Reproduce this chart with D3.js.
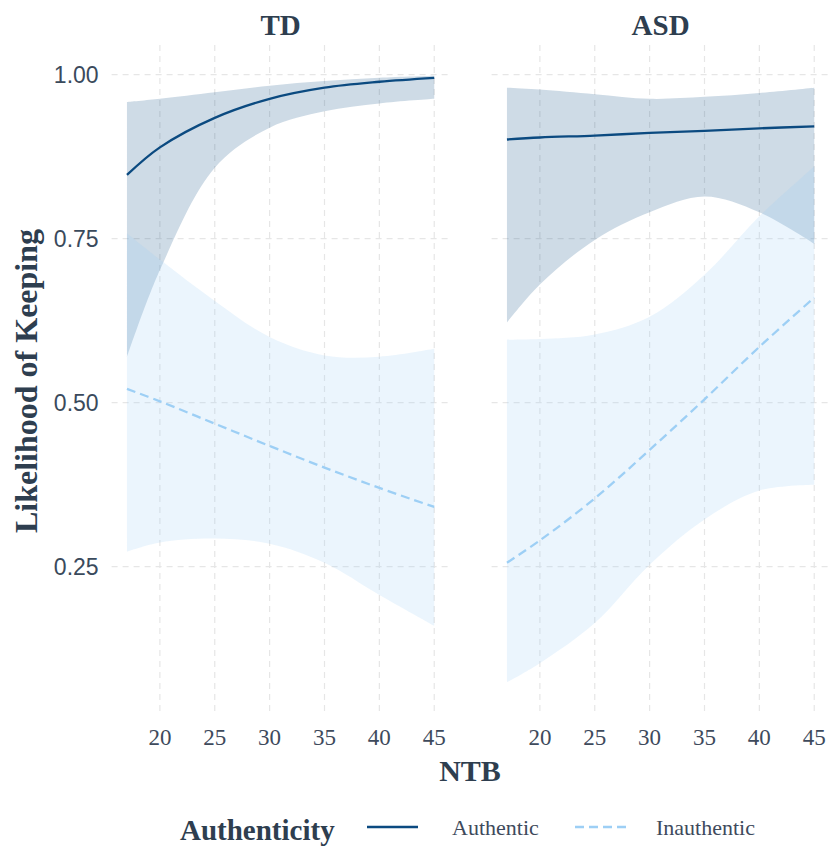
<!DOCTYPE html>
<html>
<head>
<meta charset="utf-8">
<script src="https://cdn.jsdelivr.net/npm/d3@7"></script>
<style>
  body { margin: 0; background: #fff; }
  svg { display: block; }
</style>
</head>
<body>
<svg width="829" height="847"></svg>
<script>
// values
var ntb = [17, 20, 25, 30, 35, 40, 45];
var xTicks = [20, 25, 30, 35, 40, 45];
var yTicks = [0.25, 0.50, 0.75, 1.00];
var groups = ["TD", "ASD"];
var authenticity = ["Authentic", "Inauthentic"];

var tdAuthFit   = [0.847, 0.889, 0.934, 0.963, 0.980, 0.989, 0.995];
var tdAuthLow   = [0.569, 0.702, 0.858, 0.919, 0.944, 0.956, 0.963];
var tdAuthHigh  = [0.958, 0.963, 0.973, 0.983, 0.990, 0.995, 0.998];
var tdInFit     = [0.521, 0.502, 0.468, 0.434, 0.401, 0.370, 0.341];
var tdInLow     = [0.273, 0.287, 0.293, 0.285, 0.256, 0.207, 0.160];
var tdInHigh    = [0.758, 0.718, 0.655, 0.600, 0.572, 0.570, 0.582];

var asdAuthFit  = [0.901, 0.904, 0.907, 0.911, 0.914, 0.918, 0.921];
var asdAuthLow  = [0.622, 0.680, 0.748, 0.790, 0.814, 0.790, 0.742];
var asdAuthHigh = [0.980, 0.977, 0.970, 0.963, 0.966, 0.972, 0.980];
var asdInFit    = [0.256, 0.290, 0.354, 0.428, 0.505, 0.585, 0.660];
var asdInLow    = [0.074, 0.103, 0.164, 0.253, 0.322, 0.366, 0.375];
var asdInHigh   = [0.596, 0.597, 0.604, 0.631, 0.695, 0.784, 0.860];

var colors = {"Authentic": "#0b4a80", "Inauthentic": "#9dcff5"};

function rows(fit, low, high) {
  return ntb.map(function(x, i) { return {x: x, fit: fit[i], low: low[i], high: high[i]}; });
}

var panels = [
  {name: "TD", left: 111.6, series: [
    {key: "Authentic", data: rows(tdAuthFit, tdAuthLow, tdAuthHigh)},
    {key: "Inauthentic", data: rows(tdInFit, tdInLow, tdInHigh)}]},
  {name: "ASD", left: 491.6, series: [
    {key: "Authentic", data: rows(asdAuthFit, asdAuthLow, asdAuthHigh)},
    {key: "Inauthentic", data: rows(asdInFit, asdInLow, asdInHigh)}]}
];

var svg = d3.select("svg");
var panelW = 338, panelTop = 45, panelBottom = 713;

var x = d3.scaleLinear().domain([15.6, 46.4]).range([0, panelW]);
var y = d3.scaleLinear().domain([0.027, 1.045]).range([panelBottom, panelTop]);

var area = d3.area()
  .x(function(d) { return x(d.x); })
  .y0(function(d) { return y(d.low); })
  .y1(function(d) { return y(d.high); })
  .curve(d3.curveCatmullRom.alpha(0.5));

var line = d3.line()
  .x(function(d) { return x(d.x); })
  .y(function(d) { return y(d.fit); })
  .curve(d3.curveCatmullRom.alpha(0.5));

panels.forEach(function(p, pi) {
  var g = svg.append("g").attr("transform", "translate(" + p.left + ",0)");

  // grid
  g.selectAll(".hgrid").data(yTicks).enter().append("line")
    .attr("x1", 0).attr("x2", panelW)
    .attr("y1", function(d) { return y(d); }).attr("y2", function(d) { return y(d); })
    .attr("stroke", "#e6e6e6").attr("stroke-width", 1.2).attr("stroke-dasharray", "6,5");
  g.selectAll(".vgrid").data(xTicks).enter().append("line")
    .attr("x1", function(d) { return x(d); }).attr("x2", function(d) { return x(d); })
    .attr("y1", panelTop).attr("y2", panelBottom)
    .attr("stroke", "#e6e6e6").attr("stroke-width", 1.2).attr("stroke-dasharray", "6,5");

  // ribbons
  p.series.forEach(function(s) {
    g.append("path").datum(s.data)
      .attr("d", area)
      .attr("fill", colors[s.key])
      .attr("fill-opacity", 0.2);
  });

  // lines
  p.series.forEach(function(s) {
    g.append("path").datum(s.data)
      .attr("d", line)
      .attr("fill", "none")
      .attr("stroke", colors[s.key])
      .attr("stroke-width", 2.3)
      .attr("stroke-dasharray", s.key == "Inauthentic" ? "9,5" : null);
  });

  // strip title
  g.append("text")
    .attr("x", panelW / 2).attr("y", 35)
    .attr("text-anchor", "middle")
    .style("font", "bold 29px 'Liberation Serif', serif")
    .attr("fill", "#2e3e4f")
    .text(p.name);

  // x tick labels
  g.selectAll(".xt").data(xTicks).enter().append("text")
    .attr("x", function(d) { return x(d); }).attr("y", 745)
    .attr("text-anchor", "middle")
    .style("font", "23px 'Liberation Serif', serif")
    .attr("fill", "#3e4a5c")
    .text(function(d) { return d; });

  // y tick labels only on first panel
  if (pi == 0) {
    g.selectAll(".yt").data(yTicks).enter().append("text")
      .attr("x", -13).attr("y", function(d) { return y(d); })
      .attr("dy", "0.36em")
      .attr("text-anchor", "end")
      .style("font", "23px 'Liberation Sans', Arial, sans-serif")
      .attr("fill", "#3a4a5c")
      .text(function(d) { return d3.format(".2f")(d); });
  }
});

// axis titles
svg.append("text")
  .attr("x", 470).attr("y", 781)
  .attr("text-anchor", "middle")
  .style("font", "bold 30px 'Liberation Serif', serif")
  .attr("fill", "#2e3e4f")
  .text("NTB");

svg.append("text")
  .attr("transform", "translate(37,381) rotate(-90)")
  .attr("text-anchor", "middle")
  .style("font", "bold 32px 'Liberation Serif', serif")
  .attr("fill", "#2e3e4f")
  .text("Likelihood of Keeping");

// legend
var legend = svg.append("g");
legend.append("text")
  .attr("x", 180).attr("y", 840)
  .style("font", "bold 29px 'Liberation Serif', serif")
  .attr("fill", "#2e3e4f")
  .text("Authenticity");

var legendX = [367, 575];
var labelX = [452, 656];
authenticity.forEach(function(a, i) {
  legend.append("line")
    .attr("x1", legendX[i]).attr("x2", legendX[i] + 51)
    .attr("y1", 827).attr("y2", 827)
    .attr("stroke", colors[a]).attr("stroke-width", 2.3)
    .attr("stroke-dasharray", a == "Inauthentic" ? "9,5" : null);
  legend.append("text")
    .attr("x", labelX[i]).attr("y", 835)
    .style("font", "22px 'Liberation Serif', serif")
    .attr("fill", "#3e4a5c")
    .text(a);
});
</script>
</body>
</html>
